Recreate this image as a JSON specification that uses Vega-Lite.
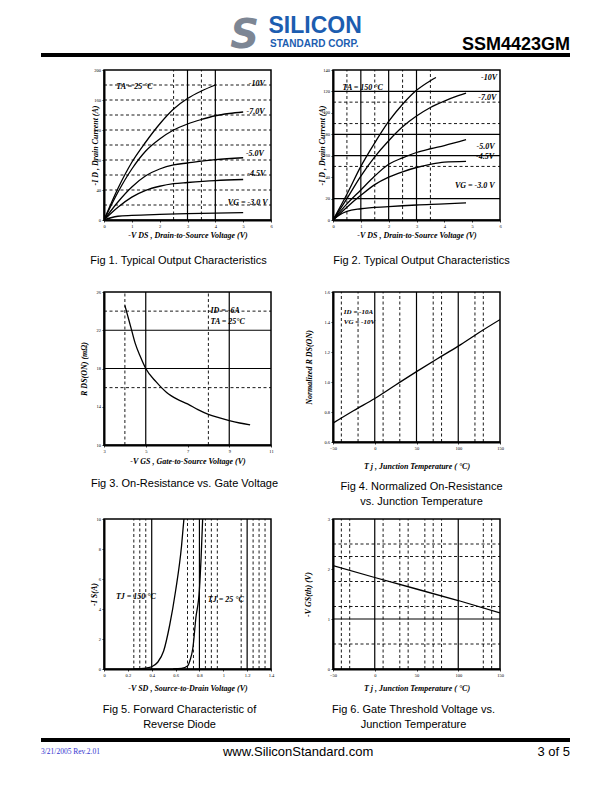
{
  "$schema": "https://vega.github.io/schema/vega-lite/v6.json",
  "background": "white",
  "padding": {"left": 39, "top": 15, "right": 5, "bottom": 5},
  "spacing": 7,
  "config": {
    "view": {"stroke": "black", "strokeWidth": 1.5},
    "axis": {"labelFont": "Liberation Serif", "labelFontSize": 4.5, "labelColor": "black", "labelPadding": 1.5, "labelFlush": false, "labelOverlap": false, "labelSeparation": 0, "tickSize": 2, "tickColor": "black", "tickWidth": 0.8, "domainColor": "black", "domainWidth": 2, "grid": false, "titleFont": "Liberation Serif", "titleFontStyle": "italic", "titleFontWeight": "bold", "titleFontSize": 8, "titleColor": "black", "titleBaseline": "middle"},
    "title": {"font": "Liberation Sans", "fontSize": 11, "fontWeight": "normal", "color": "black", "lineHeight": 15, "orient": "bottom", "anchor": "middle", "frame": "group"}
  },
  "vconcat": [
    {
      "width": 529, "height": 44, "view": {"stroke": null},
      "encoding": {
        "x": {"field": "x", "type": "quantitative", "scale": {"domain": [0, 1]}, "axis": null},
        "y": {"field": "y", "type": "quantitative", "scale": {"domain": [0, 1]}, "axis": null}
      },
      "layer": [
        {"data": {"values": [{"x": 0, "x2": 1, "y": 0.091}]}, "mark": {"type": "rule", "strokeWidth": 4, "color": "black"}, "encoding": {"x2": {"field": "x2"}}},
        {"data": {"values": [{"x": 0.385, "y": 0.25, "t": "S"}]}, "mark": {"type": "text", "font": "DejaVu Sans", "fontWeight": "bold", "fontStyle": "italic", "fontSize": 40, "color": "#7d8694", "align": "center", "baseline": "alphabetic"}, "encoding": {"text": {"field": "t"}}},
        {"data": {"values": [{"x": 0.43, "y": 0.58, "t": "SILICON"}]}, "mark": {"type": "text", "font": "Liberation Sans", "fontWeight": "bold", "fontSize": 23, "color": "#1c5db0", "align": "left", "baseline": "alphabetic"}, "encoding": {"text": {"field": "t"}}},
        {"data": {"values": [{"x": 0.433, "y": 0.273, "t": "STANDARD CORP."}]}, "mark": {"type": "text", "font": "Liberation Sans", "fontWeight": "bold", "fontSize": 10, "color": "#1c5db0", "align": "left", "baseline": "alphabetic"}, "encoding": {"text": {"field": "t"}}},
        {"data": {"values": [{"x": 1, "y": 0.205, "t": "SSM4423GM"}]}, "mark": {"type": "text", "font": "Liberation Sans", "fontWeight": "bold", "fontSize": 18, "color": "black", "align": "right", "baseline": "alphabetic"}, "encoding": {"text": {"field": "t"}}}
      ]
    },
    {
      "hconcat": [
        {"width": 1, "height": 20, "view": {"stroke": null}, "data": {"values": []}, "mark": "point", "encoding": {}},
        {
          "width": 167, "height": 150,
          "title": {"text": ["Fig 1. Typical Output Characteristics", " "], "offset": 16, "dx": -9, "lineHeight": 14},
          "encoding": {
            "x": {"field": "x", "type": "quantitative", "scale": {"domain": [0, 6], "nice": false}, "axis": {"values": [0, 1, 2, 3, 4, 5, 6], "labelOverlap": false, "title": "-V DS , Drain-to-Source Voltage (V)", "titleY": 15}},
            "y": {"field": "y", "type": "quantitative", "scale": {"domain": [0, 200], "nice": false}, "axis": {"values": [0, 40, 80, 120, 160, 200], "labelOverlap": false, "title": "-I D , Drain Current (A)", "titleX": -9}}
          },
          "layer": [
            {"data": {"values": [{"y": 20, "x": 0, "x2": 6}, {"y": 40, "x": 0, "x2": 6}, {"y": 60, "x": 0, "x2": 6}, {"y": 80, "x": 0, "x2": 6}, {"y": 100, "x": 0, "x2": 6}, {"y": 120, "x": 0, "x2": 6}, {"y": 140, "x": 0, "x2": 6}, {"y": 160, "x": 0, "x2": 6}, {"y": 180, "x": 0, "x2": 6}]},
             "mark": {"type": "rule", "color": "black", "strokeWidth": 0.9, "strokeDash": [3, 2.5]}, "encoding": {"x2": {"field": "x2"}}},
            {"data": {"values": [{"x": 2.5, "y": 0, "y2": 200}, {"x": 3.5, "y": 0, "y2": 200}]},
             "mark": {"type": "rule", "color": "black", "strokeWidth": 0.9, "strokeDash": [3, 2.5]}, "encoding": {"y2": {"field": "y2"}}},
            {"data": {"values": [{"x": 3, "y": 0, "y2": 200}, {"x": 4, "y": 0, "y2": 200}]},
             "mark": {"type": "rule", "color": "black", "strokeWidth": 1.2}, "encoding": {"y2": {"field": "y2"}}},
            {"data": {"values": [
              {"s": "-10V", "x": 0, "y": 0}, {"s": "-10V", "x": 0.5, "y": 42}, {"s": "-10V", "x": 1, "y": 77}, {"s": "-10V", "x": 1.5, "y": 104}, {"s": "-10V", "x": 2, "y": 128}, {"s": "-10V", "x": 2.5, "y": 148}, {"s": "-10V", "x": 3, "y": 162}, {"s": "-10V", "x": 3.5, "y": 172}, {"s": "-10V", "x": 4, "y": 180},
              {"s": "-7V", "x": 0, "y": 0}, {"s": "-7V", "x": 0.5, "y": 37}, {"s": "-7V", "x": 1, "y": 68}, {"s": "-7V", "x": 1.5, "y": 92}, {"s": "-7V", "x": 2, "y": 108}, {"s": "-7V", "x": 2.5, "y": 120}, {"s": "-7V", "x": 3, "y": 128}, {"s": "-7V", "x": 3.5, "y": 134}, {"s": "-7V", "x": 4, "y": 139}, {"s": "-7V", "x": 4.5, "y": 142}, {"s": "-7V", "x": 5, "y": 144},
              {"s": "-5V", "x": 0, "y": 0}, {"s": "-5V", "x": 0.5, "y": 24}, {"s": "-5V", "x": 1, "y": 44}, {"s": "-5V", "x": 1.5, "y": 59}, {"s": "-5V", "x": 2, "y": 68}, {"s": "-5V", "x": 2.5, "y": 73.5}, {"s": "-5V", "x": 3, "y": 76}, {"s": "-5V", "x": 4, "y": 80.5}, {"s": "-5V", "x": 5, "y": 83},
              {"s": "-4.5V", "x": 0, "y": 0}, {"s": "-4.5V", "x": 0.5, "y": 17}, {"s": "-4.5V", "x": 1, "y": 30.5}, {"s": "-4.5V", "x": 1.5, "y": 39.5}, {"s": "-4.5V", "x": 2, "y": 45}, {"s": "-4.5V", "x": 2.5, "y": 48.5}, {"s": "-4.5V", "x": 3, "y": 50}, {"s": "-4.5V", "x": 4, "y": 52.5}, {"s": "-4.5V", "x": 5, "y": 54},
              {"s": "-3V", "x": 0, "y": 0}, {"s": "-3V", "x": 0.25, "y": 3}, {"s": "-3V", "x": 0.5, "y": 5}, {"s": "-3V", "x": 1, "y": 6.2}, {"s": "-3V", "x": 2, "y": 7.5}, {"s": "-3V", "x": 3, "y": 8.4}, {"s": "-3V", "x": 4, "y": 9.2}, {"s": "-3V", "x": 5, "y": 9.8}
            ]},
             "mark": {"type": "line", "color": "black", "strokeWidth": 1.3, "interpolate": "monotone", "clip": true},
             "encoding": {"detail": {"field": "s", "type": "nominal"}}},
            {"data": {"values": [
              {"x": 0.44, "y": 177, "t": "TA = 25 °C"}, {"x": 5.2, "y": 181, "t": "-10V"}, {"x": 5.12, "y": 144, "t": "-7.0V"}, {"x": 5.1, "y": 88, "t": "-5.0V"}, {"x": 5.15, "y": 62, "t": "-4.5V"}, {"x": 4.45, "y": 23, "t": "VG = -3.0 V"}
            ]},
             "mark": {"type": "text", "font": "Liberation Serif", "fontStyle": "italic", "fontWeight": "bold", "fontSize": 8, "align": "left", "baseline": "middle", "color": "black"},
             "encoding": {"text": {"field": "t"}}}
          ]
        },
        {
          "width": 167, "height": 150,
          "title": {"text": ["Fig 2. Typical Output Characteristics", " "], "offset": 16, "dx": 5, "lineHeight": 14},
          "encoding": {
            "x": {"field": "x", "type": "quantitative", "scale": {"domain": [0, 6], "nice": false}, "axis": {"values": [0, 1, 2, 3, 4, 5, 6], "labelOverlap": false, "title": "-V DS , Drain-to-Source Voltage (V)", "titleY": 15}},
            "y": {"field": "y", "type": "quantitative", "scale": {"domain": [0, 140], "nice": false}, "axis": {"values": [0, 20, 40, 60, 80, 100, 120, 140], "labelOverlap": false, "title": "-I D , Drain Current (A)", "titleX": -11}}
          },
          "layer": [
            {"data": {"values": [{"y": 50, "x": 0, "x2": 6}, {"y": 90, "x": 0, "x2": 6}, {"y": 110, "x": 0, "x2": 6}]},
             "mark": {"type": "rule", "color": "black", "strokeWidth": 0.9, "strokeDash": [3, 2.5]}, "encoding": {"x2": {"field": "x2"}}},
            {"data": {"values": [{"y": 20, "x": 0, "x2": 6}, {"y": 60, "x": 0, "x2": 6}, {"y": 80, "x": 0, "x2": 6}, {"y": 120, "x": 0, "x2": 6}]},
             "mark": {"type": "rule", "color": "black", "strokeWidth": 1.2}, "encoding": {"x2": {"field": "x2"}}},
            {"data": {"values": [{"x": 0.5, "y": 0, "y2": 140}, {"x": 1.5, "y": 0, "y2": 140}, {"x": 2.5, "y": 0, "y2": 140}, {"x": 3.5, "y": 0, "y2": 140}]},
             "mark": {"type": "rule", "color": "black", "strokeWidth": 0.9, "strokeDash": [3, 2.5]}, "encoding": {"y2": {"field": "y2"}}},
            {"data": {"values": [{"x": 1, "y": 0, "y2": 140}, {"x": 2, "y": 0, "y2": 140}, {"x": 3, "y": 0, "y2": 140}]},
             "mark": {"type": "rule", "color": "black", "strokeWidth": 1.2}, "encoding": {"y2": {"field": "y2"}}},
            {"data": {"values": [
              {"s": "-10V", "x": 0, "y": 0}, {"s": "-10V", "x": 0.5, "y": 24}, {"s": "-10V", "x": 1, "y": 50}, {"s": "-10V", "x": 1.5, "y": 72}, {"s": "-10V", "x": 2, "y": 92}, {"s": "-10V", "x": 2.5, "y": 108}, {"s": "-10V", "x": 3, "y": 121}, {"s": "-10V", "x": 3.5, "y": 130}, {"s": "-10V", "x": 3.7, "y": 133},
              {"s": "-7V", "x": 0, "y": 0}, {"s": "-7V", "x": 0.5, "y": 20}, {"s": "-7V", "x": 1, "y": 41}, {"s": "-7V", "x": 1.5, "y": 59}, {"s": "-7V", "x": 2, "y": 74}, {"s": "-7V", "x": 2.5, "y": 87}, {"s": "-7V", "x": 3, "y": 97}, {"s": "-7V", "x": 3.5, "y": 105}, {"s": "-7V", "x": 4, "y": 111}, {"s": "-7V", "x": 4.5, "y": 116}, {"s": "-7V", "x": 4.78, "y": 118.5},
              {"s": "-5V", "x": 0, "y": 0}, {"s": "-5V", "x": 0.5, "y": 15}, {"s": "-5V", "x": 1, "y": 28}, {"s": "-5V", "x": 1.5, "y": 41}, {"s": "-5V", "x": 2, "y": 52}, {"s": "-5V", "x": 2.5, "y": 58}, {"s": "-5V", "x": 3, "y": 63}, {"s": "-5V", "x": 3.5, "y": 66.5}, {"s": "-5V", "x": 4, "y": 69.5}, {"s": "-5V", "x": 4.78, "y": 75},
              {"s": "-4.5V", "x": 0, "y": 0}, {"s": "-4.5V", "x": 0.5, "y": 12}, {"s": "-4.5V", "x": 1, "y": 23}, {"s": "-4.5V", "x": 1.5, "y": 33}, {"s": "-4.5V", "x": 2, "y": 40}, {"s": "-4.5V", "x": 2.5, "y": 45}, {"s": "-4.5V", "x": 3, "y": 49}, {"s": "-4.5V", "x": 3.5, "y": 52}, {"s": "-4.5V", "x": 4, "y": 54}, {"s": "-4.5V", "x": 4.78, "y": 54.7},
              {"s": "-3V", "x": 0, "y": 0}, {"s": "-3V", "x": 0.25, "y": 5}, {"s": "-3V", "x": 0.5, "y": 8}, {"s": "-3V", "x": 1, "y": 10.5}, {"s": "-3V", "x": 2, "y": 12.5}, {"s": "-3V", "x": 3, "y": 14}, {"s": "-3V", "x": 4, "y": 15}, {"s": "-3V", "x": 4.78, "y": 16}
            ]},
             "mark": {"type": "line", "color": "black", "strokeWidth": 1.3, "interpolate": "monotone", "clip": true},
             "encoding": {"detail": {"field": "s", "type": "nominal"}}},
            {"data": {"values": [
              {"x": 0.34, "y": 123, "t": "TA = 150 °C"}, {"x": 5.32, "y": 133, "t": "-10V"}, {"x": 5.22, "y": 114, "t": "-7.0V"}, {"x": 5.16, "y": 68, "t": "-5.0V"}, {"x": 5.14, "y": 58.5, "t": "-4.5V"}, {"x": 4.38, "y": 32, "t": "VG = -3.0 V"}
            ]},
             "mark": {"type": "text", "font": "Liberation Serif", "fontStyle": "italic", "fontWeight": "bold", "fontSize": 8, "align": "left", "baseline": "middle", "color": "black"},
             "encoding": {"text": {"field": "t"}}}
          ]
        }
      ],
      "spacing": 62, "bounds": "flush"
    },
    {
      "hconcat": [
        {"width": 1, "height": 20, "view": {"stroke": null}, "data": {"values": []}, "mark": "point", "encoding": {}},
        {
          "width": 167, "height": 153,
          "title": {"text": ["Fig 3. On-Resistance  vs. Gate Voltage"], "offset": 13, "dx": -3},
          "encoding": {
            "x": {"field": "x", "type": "quantitative", "scale": {"domain": [3, 11], "nice": false}, "axis": {"values": [3, 5, 7, 9, 11], "labelOverlap": false, "title": "-V GS , Gate-to-Source Voltage (V)", "titleY": 16}},
            "y": {"field": "y", "type": "quantitative", "scale": {"domain": [10, 26], "nice": false}, "axis": {"values": [10, 14, 18, 22, 26], "labelOverlap": false, "title": "R DS(ON) (mΩ)", "titleX": -20}}
          },
          "layer": [
            {"data": {"values": [{"y": 16, "x": 3, "x2": 11}, {"y": 24, "x": 3, "x2": 11}]},
             "mark": {"type": "rule", "color": "black", "strokeWidth": 0.9, "strokeDash": [3, 2.5]}, "encoding": {"x2": {"field": "x2"}}},
            {"data": {"values": [{"y": 18, "x": 3, "x2": 11}, {"y": 22, "x": 3, "x2": 11}]},
             "mark": {"type": "rule", "color": "black", "strokeWidth": 1.2}, "encoding": {"x2": {"field": "x2"}}},
            {"data": {"values": [{"x": 4, "y": 10, "y2": 26}, {"x": 8, "y": 10, "y2": 26}]},
             "mark": {"type": "rule", "color": "black", "strokeWidth": 0.9, "strokeDash": [3, 2.5]}, "encoding": {"y2": {"field": "y2"}}},
            {"data": {"values": [{"x": 5, "y": 10, "y2": 26}, {"x": 9, "y": 10, "y2": 26}]},
             "mark": {"type": "rule", "color": "black", "strokeWidth": 1.2}, "encoding": {"y2": {"field": "y2"}}},
            {"data": {"values": [
              {"x": 4, "y": 24.6}, {"x": 4.15, "y": 23.4}, {"x": 4.3, "y": 22.2}, {"x": 4.5, "y": 20.6}, {"x": 4.75, "y": 19.2}, {"x": 5, "y": 18}, {"x": 5.5, "y": 16.6}, {"x": 6, "y": 15.5}, {"x": 6.5, "y": 14.8}, {"x": 7, "y": 14.3}, {"x": 7.5, "y": 13.7}, {"x": 8, "y": 13.2}, {"x": 8.5, "y": 12.85}, {"x": 9, "y": 12.55}, {"x": 9.5, "y": 12.3}, {"x": 10, "y": 12.1}
            ]},
             "mark": {"type": "line", "color": "black", "strokeWidth": 1.3, "interpolate": "monotone", "clip": true}},
            {"data": {"values": [{"x": 8.1, "y": 24.0, "t": "ID = -6A"}, {"x": 8.1, "y": 22.9, "t": "TA = 25°C"}]},
             "mark": {"type": "text", "font": "Liberation Serif", "fontStyle": "italic", "fontWeight": "bold", "fontSize": 8, "align": "left", "baseline": "middle", "color": "black"},
             "encoding": {"text": {"field": "t"}}}
          ]
        },
        {
          "width": 167, "height": 150,
          "title": {"text": ["Fig 4. Normalized On-Resistance", "vs. Junction Temperature"], "offset": 11, "dx": 5},
          "encoding": {
            "x": {"field": "x", "type": "quantitative", "scale": {"domain": [-50, 150], "nice": false}, "axis": {"values": [-50, 0, 50, 100, 150], "labelOverlap": false, "title": "T j , Junction Temperature ( °C)", "titleY": 24}},
            "y": {"field": "y", "type": "quantitative", "scale": {"domain": [0.6, 1.6], "nice": false}, "axis": {"values": [0.6, 0.8, 1.0, 1.2, 1.4, 1.6], "labelOverlap": false, "format": ".1f", "title": "Normalized R DS(ON)", "titleX": -24}}
          },
          "layer": [
            {"data": {"values": [{"x": -40, "y": 0.6, "y2": 1.6}, {"x": -20, "y": 0.6, "y2": 1.6}, {"x": 10, "y": 0.6, "y2": 1.6}, {"x": 30, "y": 0.6, "y2": 1.6}, {"x": 70, "y": 0.6, "y2": 1.6}, {"x": 80, "y": 0.6, "y2": 1.6}, {"x": 120, "y": 0.6, "y2": 1.6}, {"x": 130, "y": 0.6, "y2": 1.6}]},
             "mark": {"type": "rule", "color": "black", "strokeWidth": 0.9, "strokeDash": [3, 2.5]}, "encoding": {"y2": {"field": "y2"}}},
            {"data": {"values": [{"x": 0, "y": 0.6, "y2": 1.6}, {"x": 50, "y": 0.6, "y2": 1.6}, {"x": 100, "y": 0.6, "y2": 1.6}]},
             "mark": {"type": "rule", "color": "black", "strokeWidth": 1.2}, "encoding": {"y2": {"field": "y2"}}},
            {"data": {"values": [
              {"x": -50, "y": 0.726}, {"x": -25, "y": 0.81}, {"x": 0, "y": 0.89}, {"x": 25, "y": 0.98}, {"x": 50, "y": 1.069}, {"x": 75, "y": 1.155}, {"x": 100, "y": 1.239}, {"x": 125, "y": 1.33}, {"x": 150, "y": 1.416}
            ]},
             "mark": {"type": "line", "color": "black", "strokeWidth": 1.3, "interpolate": "monotone", "clip": true}},
            {"data": {"values": [{"x": -37, "y": 1.465, "t": "ID = -10A"}, {"x": -37, "y": 1.40, "t": "VG = -10V"}]},
             "mark": {"type": "text", "font": "Liberation Serif", "fontStyle": "italic", "fontWeight": "bold", "fontSize": 7, "align": "left", "baseline": "middle", "color": "black"},
             "encoding": {"text": {"field": "t"}}}
          ]
        }
      ],
      "spacing": 62, "bounds": "flush"
    },
    {
      "hconcat": [
        {"width": 1, "height": 20, "view": {"stroke": null}, "data": {"values": []}, "mark": "point", "encoding": {}},
        {
          "width": 167, "height": 150,
          "title": {"text": ["Fig 5. Forward Characteristic of", "Reverse Diode"], "offset": 12, "dx": -8},
          "encoding": {
            "x": {"field": "x", "type": "quantitative", "scale": {"domain": [0, 1.4], "nice": false}, "axis": {"values": [0, 0.2, 0.4, 0.6, 0.8, 1, 1.2, 1.4], "labelOverlap": false, "format": "~g", "title": "-V SD , Source-to-Drain Voltage (V)", "titleY": 19}},
            "y": {"field": "y", "type": "quantitative", "scale": {"domain": [0, 10], "nice": false}, "axis": {"values": [0, 2, 4, 6, 8, 10], "labelOverlap": false, "title": "-I S(A)", "titleX": -10}}
          },
          "layer": [
            {"data": {"values": [{"x": 0.25, "y": 0, "y2": 10}, {"x": 0.3, "y": 0, "y2": 10}, {"x": 0.35, "y": 0, "y2": 10}, {"x": 0.7, "y": 0, "y2": 10}, {"x": 0.75, "y": 0, "y2": 10}, {"x": 0.85, "y": 0, "y2": 10}, {"x": 0.9, "y": 0, "y2": 10}, {"x": 0.95, "y": 0, "y2": 10}, {"x": 1.15, "y": 0, "y2": 10}, {"x": 1.25, "y": 0, "y2": 10}, {"x": 1.3, "y": 0, "y2": 10}, {"x": 1.35, "y": 0, "y2": 10}]},
             "mark": {"type": "rule", "color": "black", "strokeWidth": 0.9, "strokeDash": [3, 2.5]}, "encoding": {"y2": {"field": "y2"}}},
            {"data": {"values": [{"x": 0.4, "y": 0, "y2": 10}, {"x": 0.8, "y": 0, "y2": 10}, {"x": 1.2, "y": 0, "y2": 10}]},
             "mark": {"type": "rule", "color": "black", "strokeWidth": 1.2}, "encoding": {"y2": {"field": "y2"}}},
            {"data": {"values": [
              {"s": "150", "x": 0.25, "y": 0}, {"s": "150", "x": 0.3, "y": 0.02}, {"s": "150", "x": 0.35, "y": 0.06}, {"s": "150", "x": 0.4, "y": 0.15}, {"s": "150", "x": 0.45, "y": 0.45}, {"s": "150", "x": 0.5, "y": 1.2}, {"s": "150", "x": 0.55, "y": 2.9}, {"s": "150", "x": 0.6, "y": 5.2}, {"s": "150", "x": 0.65, "y": 8.2}, {"s": "150", "x": 0.67, "y": 10},
              {"s": "25", "x": 0.58, "y": 0}, {"s": "25", "x": 0.65, "y": 0.04}, {"s": "25", "x": 0.7, "y": 0.2}, {"s": "25", "x": 0.72, "y": 0.55}, {"s": "25", "x": 0.745, "y": 1.4}, {"s": "25", "x": 0.77, "y": 3.4}, {"s": "25", "x": 0.8, "y": 5.3}, {"s": "25", "x": 0.815, "y": 7.6}, {"s": "25", "x": 0.827, "y": 10}
            ]},
             "mark": {"type": "line", "color": "black", "strokeWidth": 1.3, "interpolate": "monotone", "clip": true},
             "encoding": {"detail": {"field": "s", "type": "nominal"}}},
            {"data": {"values": [{"x": 0.1, "y": 4.8, "t": "TJ = 150 °C"}, {"x": 0.87, "y": 4.6, "t": "TJ = 25 °C"}]},
             "mark": {"type": "text", "font": "Liberation Serif", "fontStyle": "italic", "fontWeight": "bold", "fontSize": 8, "align": "left", "baseline": "middle", "color": "black"},
             "encoding": {"text": {"field": "t"}}}
          ]
        },
        {
          "width": 167, "height": 150,
          "title": {"text": ["Fig 6. Gate Threshold Voltage vs.", "Junction Temperature"], "offset": 12, "dx": -3},
          "encoding": {
            "x": {"field": "x", "type": "quantitative", "scale": {"domain": [-50, 150], "nice": false}, "axis": {"values": [-50, 0, 50, 100, 150], "labelOverlap": false, "title": "T j , Junction Temperature ( °C)", "titleY": 19}},
            "y": {"field": "y", "type": "quantitative", "scale": {"domain": [0, 3], "nice": false}, "axis": {"values": [0, 1, 2, 3], "labelOverlap": false, "title": "-V GS(th) (V)", "titleX": -25}}
          },
          "layer": [
            {"data": {"values": [{"y": 0.5, "x": -50, "x2": 150}, {"y": 1.25, "x": -50, "x2": 150}, {"y": 1.75, "x": -50, "x2": 150}, {"y": 2.25, "x": -50, "x2": 150}, {"y": 2.5, "x": -50, "x2": 150}]},
             "mark": {"type": "rule", "color": "black", "strokeWidth": 0.9, "strokeDash": [3, 2.5]}, "encoding": {"x2": {"field": "x2"}}},
            {"data": {"values": [{"y": 1, "x": -50, "x2": 150}]},
             "mark": {"type": "rule", "color": "black", "strokeWidth": 1.2}, "encoding": {"x2": {"field": "x2"}}},
            {"data": {"values": [{"x": -40, "y": 0, "y2": 3}, {"x": -30, "y": 0, "y2": 3}, {"x": 10, "y": 0, "y2": 3}, {"x": 30, "y": 0, "y2": 3}, {"x": 40, "y": 0, "y2": 3}, {"x": 60, "y": 0, "y2": 3}, {"x": 70, "y": 0, "y2": 3}, {"x": 80, "y": 0, "y2": 3}, {"x": 130, "y": 0, "y2": 3}, {"x": 140, "y": 0, "y2": 3}]},
             "mark": {"type": "rule", "color": "black", "strokeWidth": 0.9, "strokeDash": [3, 2.5]}, "encoding": {"y2": {"field": "y2"}}},
            {"data": {"values": [{"x": 0, "y": 0, "y2": 3}, {"x": 100, "y": 0, "y2": 3}]},
             "mark": {"type": "rule", "color": "black", "strokeWidth": 1.2}, "encoding": {"y2": {"field": "y2"}}},
            {"data": {"values": [{"x": -50, "y": 2.07}, {"x": 0, "y": 1.83}, {"x": 50, "y": 1.6}, {"x": 100, "y": 1.37}, {"x": 150, "y": 1.12}]},
             "mark": {"type": "line", "color": "black", "strokeWidth": 1.3, "clip": true}}
          ]
        }
      ],
      "spacing": 62, "bounds": "flush"
    },
    {
      "width": 529, "height": 20, "view": {"stroke": null},
      "encoding": {
        "x": {"field": "x", "type": "quantitative", "scale": {"domain": [0, 1]}, "axis": null},
        "y": {"field": "y", "type": "quantitative", "scale": {"domain": [0, 1]}, "axis": null}
      },
      "layer": [
        {"data": {"values": [{"x": 0, "x2": 1, "y": 1}]}, "mark": {"type": "rule", "strokeWidth": 4, "color": "black"}, "encoding": {"x2": {"field": "x2"}}},
        {"data": {"values": [{"x": 0, "y": 0.4, "t": "3/21/2005  Rev.2.01"}]}, "mark": {"type": "text", "font": "Liberation Serif", "fontSize": 7.5, "color": "#3434d0", "align": "left", "baseline": "middle"}, "encoding": {"text": {"field": "t"}}},
        {"data": {"values": [{"x": 0.486, "y": 0.4, "t": "www.SiliconStandard.com"}]}, "mark": {"type": "text", "font": "Liberation Sans", "fontSize": 13, "color": "black", "align": "center", "baseline": "middle"}, "encoding": {"text": {"field": "t"}}},
        {"data": {"values": [{"x": 1, "y": 0.4, "t": "3 of 5"}]}, "mark": {"type": "text", "font": "Liberation Sans", "fontSize": 13, "color": "black", "align": "right", "baseline": "middle"}, "encoding": {"text": {"field": "t"}}}
      ]
    }
  ]
}
